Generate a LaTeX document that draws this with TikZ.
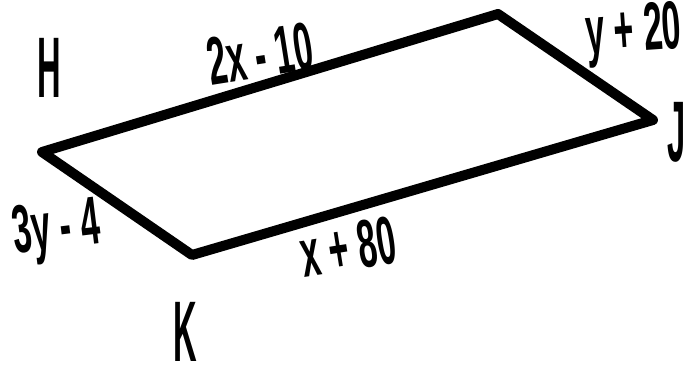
\documentclass[tikz,border=0pt]{standalone}
\usepackage{fontspec}
\setmainfont{Liberation Sans}
\begin{document}
\begin{tikzpicture}[x=1pt,y=-1pt,
  edge/.style={line width=10pt,line join=round,line cap=round},
  vlabel/.style={inner sep=0pt,font=\fontsize{86}{88}\selectfont\bfseries},
  elabel/.style={inner sep=0pt,font=\fontsize{68}{70}\selectfont\bfseries}]
\useasboundingbox (0,0) rectangle (693,373);
\coordinate (H) at (42,152);
\coordinate (T) at (498,14);
\coordinate (J) at (653,120);
\coordinate (K) at (192,255);
\draw[edge] (H) -- (T) -- (J) -- (K) -- cycle;
\node[vlabel] (lH) at (49,68) {\scalebox{0.38}[1]{H}};
\node[vlabel] (lJ) at (677,132) {\scalebox{0.38}[1]{J}};
\node[vlabel] (lK) at (185,332) {\scalebox{0.38}[1]{K}};
\node[elabel,rotate=9] (e1) at (260,54) {\scalebox{0.5}[1]{2x - 10}};
\node[elabel,rotate=4] (e2) at (634,35) {\scalebox{0.5}[1]{y + 20}};
\node[elabel,rotate=9] (e3) at (348,247) {\scalebox{0.5}[1]{x + 80}};
\node[elabel,rotate=7] (e4) at (57,232) {\scalebox{0.5}[1]{3y - 4}};
\end{tikzpicture}
\end{document}
